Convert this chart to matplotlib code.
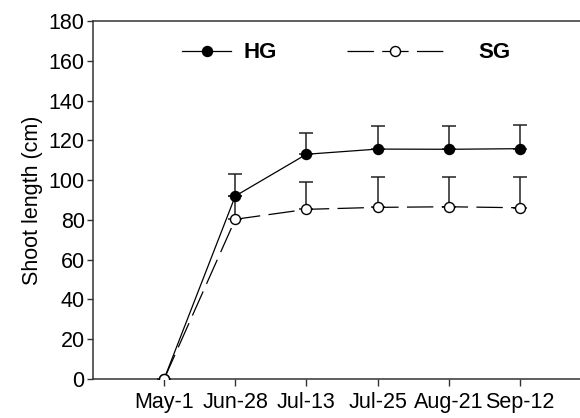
import matplotlib
matplotlib.use("Agg")
import matplotlib.pyplot as plt
from matplotlib.lines import Line2D

# Datos
fechas = ["May-1", "Jun-28", "Jul-13", "Jul-25", "Aug-21", "Sep-12"]
hg = [0, 92.0, 113.0, 115.6, 115.5, 115.8]
hg_err = [0, 11.0, 10.7, 11.4, 11.7, 11.7]
sg = [0, 80.3, 85.3, 86.3, 86.6, 86.1]
sg_err = [0, 11.5, 13.9, 15.1, 15.1, 15.6]
yticks = [0, 20, 40, 60, 80, 100, 120, 140, 160, 180]

plt.rcParams["font.family"] = ["Liberation Sans", "DejaVu Sans"]
plt.rcParams["lines.scale_dashes"] = False

fig = plt.figure(figsize=(5.8, 4.18), dpi=100)
ax = fig.add_axes([93 / 580, 39 / 418, 498 / 580, 358 / 418])

x = list(range(1, len(fechas) + 1))
cero = [0] * len(fechas)
guion = (0, (19, 6))

# Barras de error (solo hacia arriba)
ax.errorbar(x, hg, yerr=[cero, hg_err], fmt="none", ecolor="#222222",
            elinewidth=1.1, capsize=5, capthick=1.1, zorder=2)
ax.errorbar(x, sg, yerr=[cero, sg_err], fmt="none", ecolor="#222222",
            elinewidth=1.1, capsize=5, capthick=1.1, zorder=2)

# Lineas
ax.plot(x, hg, color="black", lw=0.9, marker="o", ms=7.2,
        mfc="black", mec="black", zorder=3)
ax.plot(x, sg, color="black", lw=0.9, linestyle=guion, marker="o", ms=7.2,
        mfc="white", mec="black", mew=1.0, zorder=4)

ax.set_xlim(0, 7)
ax.set_ylim(0, 180)
ax.set_xticks(x)
ax.set_xticklabels(fechas)
ax.set_yticks(yticks)
ax.tick_params(axis="both", labelsize=15.5, colors="#333333", labelcolor="black",
               direction="out", width=1.0)
ax.tick_params(axis="y", length=4, pad=2)
ax.tick_params(axis="x", length=5, pad=4.5)
ax.set_ylabel("Shoot length (cm)", fontsize=15.5, labelpad=4)

for lado in ["left", "bottom", "top"]:
    ax.spines[lado].set_color("#333333")
    ax.spines[lado].set_linewidth(1.1)
ax.spines["right"].set_visible(False)

# Leyenda en dos partes
h_hg = Line2D([], [], color="black", lw=0.9, marker="o", ms=7.2, mfc="black")
h_sg = Line2D([], [], color="black", lw=0.9, linestyle=guion, marker="o",
              ms=7.2, mfc="white", mec="black")
fuente = {"weight": "bold", "size": 16}
leg1 = ax.legend([h_hg], ["HG"], loc="center left", bbox_to_anchor=(0.179, 0.911),
                 frameon=False, prop=fuente, handlelength=2.2, handletextpad=0.55,
                 borderpad=0, borderaxespad=0)
ax.add_artist(leg1)
ax.legend([h_sg], ["SG"], loc="center left", bbox_to_anchor=(0.51, 0.911),
          frameon=False, prop=fuente, handlelength=4.3, handletextpad=1.6,
          borderpad=0, borderaxespad=0)

plt.savefig("out.png", dpi=100)
